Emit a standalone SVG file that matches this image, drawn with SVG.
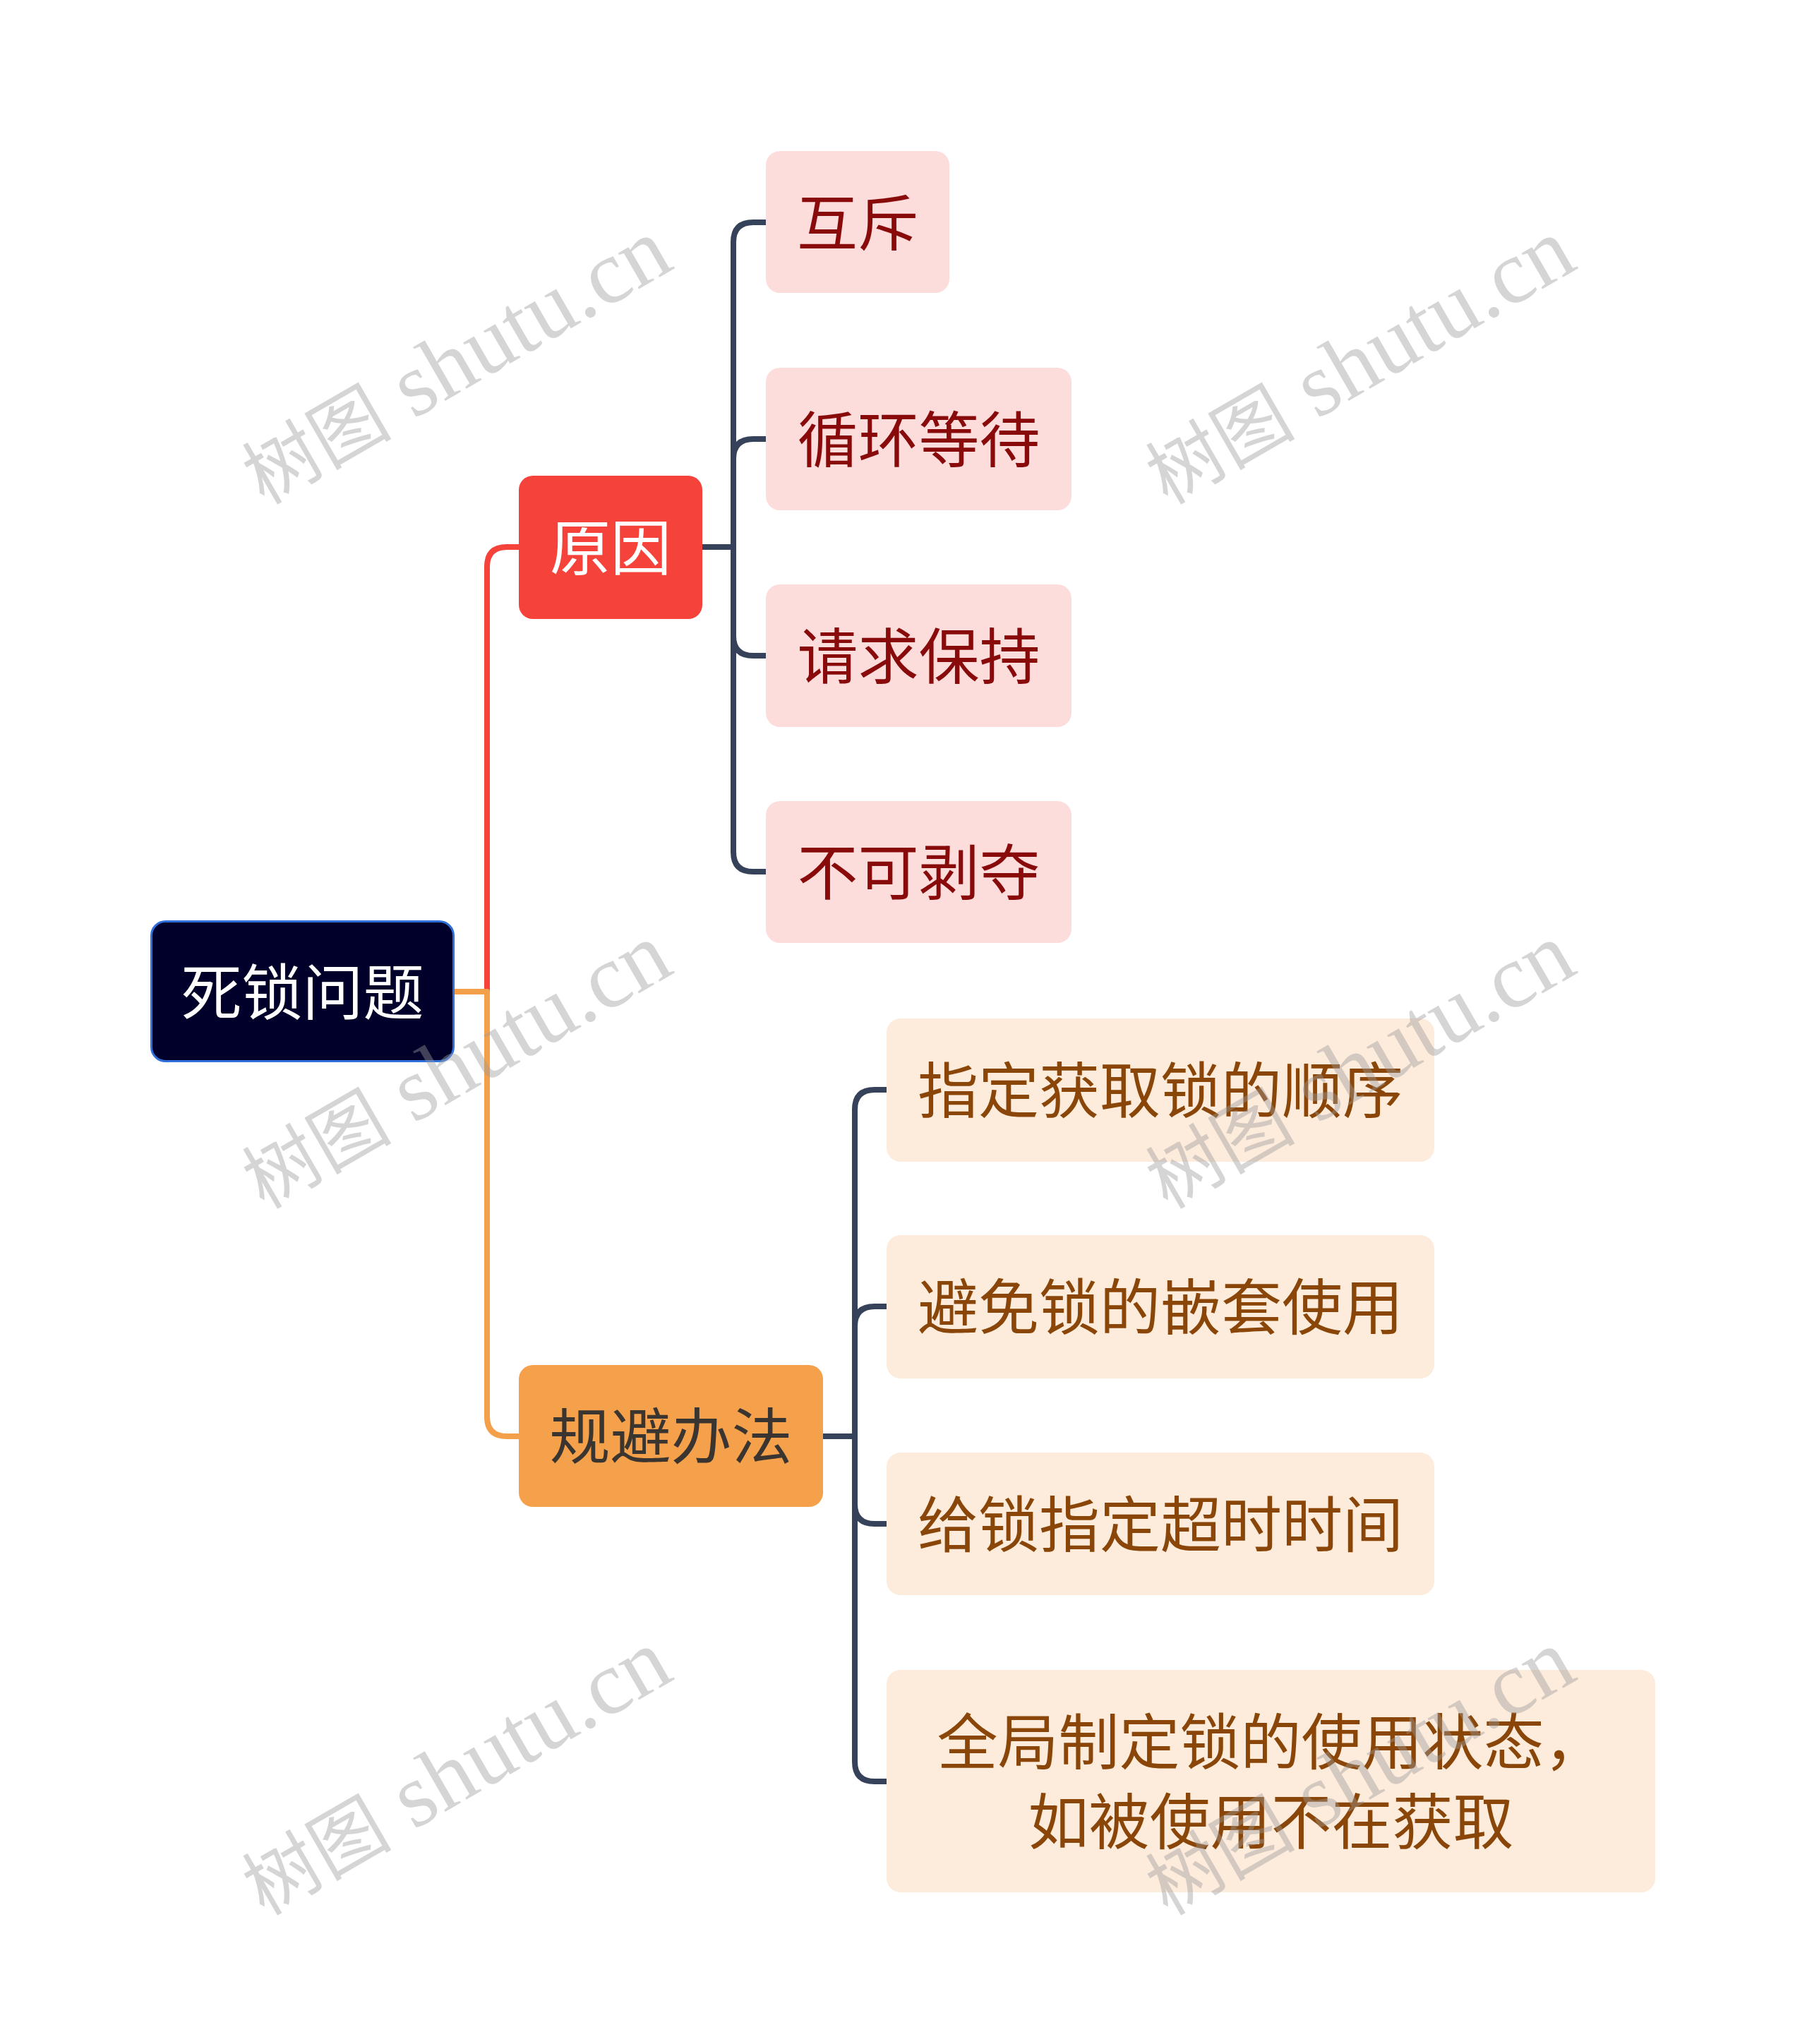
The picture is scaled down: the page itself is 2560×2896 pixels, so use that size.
<svg xmlns="http://www.w3.org/2000/svg" width="2560" height="2896" viewBox="0 0 2560 2896">
<style>
text{font-family:"Noto Sans CJK SC","Noto Sans",sans-serif;font-size:86px;text-anchor:middle;dominant-baseline:central}
.c{fill:none;stroke-width:8;stroke-linecap:butt;stroke-linejoin:round}
.dk{stroke:#354259}
.pk rect{fill:#fddcdc}
.pk text{fill:#880a0a}
.pc rect{fill:#fdebdb}
.pc text{fill:#8a4608}
.wm{font-family:"Liberation Serif","Noto Sans CJK SC",serif;font-size:128px;fill:#9a9a9a;fill-opacity:0.42;dominant-baseline:alphabetic}
.wm .cj{font-size:106px}
</style>
<rect width="2560" height="2896" fill="#ffffff"/>
<g id="connectors">
<path class="c" stroke="#f5433b" d="M690 1409 V803 Q690 775 718 775 H737"/>
<path class="c" stroke="#f4a04a" d="M644 1405 H690 V2007 Q690 2035 718 2035 H737"/>
<path class="c dk" d="M995 775 H1039"/>
<path class="c dk" d="M1039 775 V343 Q1039 315 1067 315 H1087"/>
<path class="c dk" d="M1039 775 V650 Q1039 622 1067 622 H1087"/>
<path class="c dk" d="M1039 775 V901 Q1039 929 1067 929 H1087"/>
<path class="c dk" d="M1039 775 V1207 Q1039 1235 1067 1235 H1087"/>
<path class="c dk" d="M1165 2035 H1211"/>
<path class="c dk" d="M1211 2035 V1572 Q1211 1544 1239 1544 H1258"/>
<path class="c dk" d="M1211 2035 V1879 Q1211 1851 1239 1851 H1258"/>
<path class="c dk" d="M1211 2035 V2131 Q1211 2159 1239 2159 H1258"/>
<path class="c dk" d="M1211 2035 V2496 Q1211 2524 1239 2524 H1258"/>
</g>
<g id="root">
<rect x="214.5" y="1305.5" width="428" height="198" rx="20" fill="#00002a" stroke="#2f6fdc" stroke-width="3"/>
<text x="428.5" y="1400" fill="#ffffff">死锁问题</text>
</g>
<g id="n-yuanyin">
<rect x="735" y="674" width="260" height="203" rx="20" fill="#f5433b"/>
<text x="865" y="770" fill="#ffffff">原因</text>
</g>
<g id="n-guibi">
<rect x="735" y="1934" width="431" height="201" rx="20" fill="#f5a04a"/>
<text x="950.5" y="2029" fill="#3a3530">规避办法</text>
</g>
<g id="n-huchi" class="pk">
<rect x="1085" y="214" width="260" height="201" rx="20"/>
<text x="1215" y="310">互斥</text>
</g>
<g id="n-xunhuan" class="pk">
<rect x="1085" y="521" width="433" height="202" rx="20"/>
<text x="1301.5" y="617">循环等待</text>
</g>
<g id="n-qingqiu" class="pk">
<rect x="1085" y="828" width="433" height="202" rx="20"/>
<text x="1301.5" y="924">请求保持</text>
</g>
<g id="n-bukebo" class="pk">
<rect x="1085" y="1135" width="433" height="201" rx="20"/>
<text x="1301.5" y="1230">不可剥夺</text>
</g>
<g id="n-zhiding" class="pc">
<rect x="1256" y="1443" width="776" height="203" rx="20"/>
<text x="1644" y="1539">指定获取锁的顺序</text>
</g>
<g id="n-bimian" class="pc">
<rect x="1256" y="1750" width="776" height="203" rx="20"/>
<text x="1644" y="1846">避免锁的嵌套使用</text>
</g>
<g id="n-geisuo" class="pc">
<rect x="1256" y="2058" width="776" height="202" rx="20"/>
<text x="1644" y="2154">给锁指定超时时间</text>
</g>
<g id="n-quanju" class="pc">
<rect x="1256" y="2366" width="1089" height="315" rx="20"/>
<text x="1800.5" y="2462">全局制定锁的使用状态，</text>
<text x="1800.5" y="2575">如被使用不在获取</text>
</g>
<g id="watermarks">
<text class="wm" transform="translate(646 513) rotate(-30)" x="0" y="40"><tspan class="cj">树图</tspan> shutu.cn</text>
<text class="wm" transform="translate(1926 513) rotate(-30)" x="0" y="40"><tspan class="cj">树图</tspan> shutu.cn</text>
<text class="wm" transform="translate(646 1511) rotate(-30)" x="0" y="40"><tspan class="cj">树图</tspan> shutu.cn</text>
<text class="wm" transform="translate(1926 1511) rotate(-30)" x="0" y="40"><tspan class="cj">树图</tspan> shutu.cn</text>
<text class="wm" transform="translate(646 2512) rotate(-30)" x="0" y="40"><tspan class="cj">树图</tspan> shutu.cn</text>
<text class="wm" transform="translate(1926 2512) rotate(-30)" x="0" y="40"><tspan class="cj">树图</tspan> shutu.cn</text>
</g>
</svg>
